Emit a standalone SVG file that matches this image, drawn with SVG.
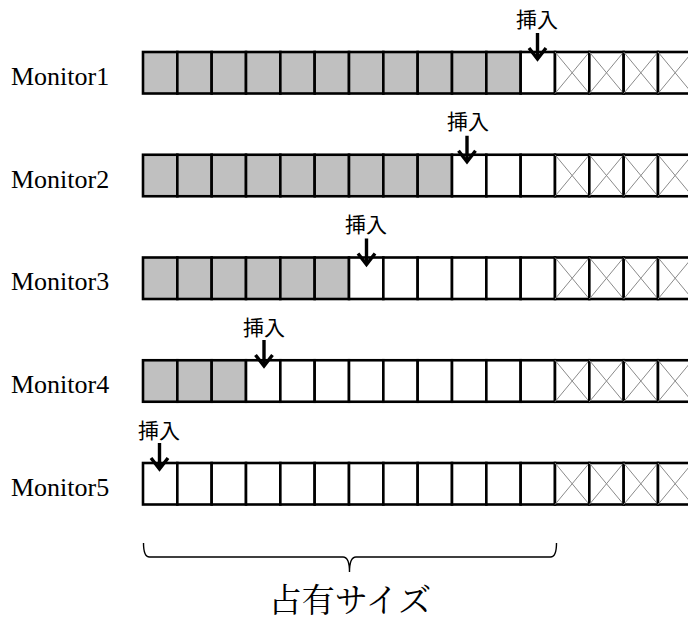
<svg xmlns="http://www.w3.org/2000/svg" xmlns:xlink="http://www.w3.org/1999/xlink" width="688" height="624" viewBox="0 0 688 624">
  <style>
    .cell { fill: #ffffff; stroke: #000000; stroke-width: 2.6; }
    .gray { fill: #c0c0c0; }
    .xline { stroke: #8a8a8a; stroke-width: 1; fill: none; }
    .label { font-family: "Liberation Serif", "Times New Roman", serif; font-size: 26px; fill: #000; }
    .ins { font-family: "Noto Sans CJK JP", "Noto Sans", sans-serif; font-size: 21px; fill: #000; text-anchor: middle; }
    .arrow { stroke: #000; stroke-width: 3.4; fill: none; stroke-linejoin: miter; }
    .brace { stroke: #000; stroke-width: 1.4; fill: none; }
    .caption { font-family: "Noto Serif CJK JP", "Noto Sans CJK JP", serif; font-size: 33px; fill: #000; text-anchor: middle; }
  </style>
  <defs>
    <!-- occupied slot -->
    <rect id="cg" class="cell gray" width="34.33" height="41.5"/>
    <!-- free slot -->
    <rect id="ce" class="cell" width="34.33" height="41.5"/>
    <!-- unusable slot -->
    <g id="cx">
      <rect class="cell" width="34.33" height="41.5"/>
      <line class="xline" x1="0" y1="0" x2="34.33" y2="41.5"/>
      <line class="xline" x1="34.33" y1="0" x2="0" y2="41.5"/>
    </g>
    <!-- insertion arrow, tip at origin -->
    <g id="arr">
      <line class="arrow" x1="0" y1="-27" x2="0" y2="-2"/>
      <polyline class="arrow" points="-8.5,-12 0,-1 8.5,-12"/>
    </g>
  </defs>

  <!-- Monitor1 -->
  <g id="monitor1">
    <text class="label" x="11" y="85">Monitor1</text>
    <g transform="translate(0,52)">
      <use href="#cg" x="143"/><use href="#cg" x="177.33"/><use href="#cg" x="211.67"/><use href="#cg" x="246"/>
      <use href="#cg" x="280.33"/><use href="#cg" x="314.67"/><use href="#cg" x="349"/><use href="#cg" x="383.33"/>
      <use href="#cg" x="417.67"/><use href="#cg" x="452"/><use href="#cg" x="486.33"/><use href="#ce" x="520.67"/>
      <use href="#cx" x="555"/><use href="#cx" x="589.33"/><use href="#cx" x="623.67"/><use href="#cx" x="658"/>
    </g>
    <text class="ins" x="537" y="26.5">挿入</text>
  </g>

  <!-- Monitor2 -->
  <g id="monitor2">
    <text class="label" x="11" y="187.5">Monitor2</text>
    <g transform="translate(0,154.75)">
      <use href="#cg" x="143"/><use href="#cg" x="177.33"/><use href="#cg" x="211.67"/><use href="#cg" x="246"/>
      <use href="#cg" x="280.33"/><use href="#cg" x="314.67"/><use href="#cg" x="349"/><use href="#cg" x="383.33"/>
      <use href="#cg" x="417.67"/><use href="#ce" x="452"/><use href="#ce" x="486.33"/><use href="#ce" x="520.67"/>
      <use href="#cx" x="555"/><use href="#cx" x="589.33"/><use href="#cx" x="623.67"/><use href="#cx" x="658"/>
    </g>
    <text class="ins" x="468" y="129.25">挿入</text>
  </g>

  <!-- Monitor3 -->
  <g id="monitor3">
    <text class="label" x="11" y="290.25">Monitor3</text>
    <g transform="translate(0,257.5)">
      <use href="#cg" x="143"/><use href="#cg" x="177.33"/><use href="#cg" x="211.67"/><use href="#cg" x="246"/>
      <use href="#cg" x="280.33"/><use href="#cg" x="314.67"/><use href="#ce" x="349"/><use href="#ce" x="383.33"/>
      <use href="#ce" x="417.67"/><use href="#ce" x="452"/><use href="#ce" x="486.33"/><use href="#ce" x="520.67"/>
      <use href="#cx" x="555"/><use href="#cx" x="589.33"/><use href="#cx" x="623.67"/><use href="#cx" x="658"/>
    </g>
    <text class="ins" x="366" y="232">挿入</text>
  </g>

  <!-- Monitor4 -->
  <g id="monitor4">
    <text class="label" x="11" y="393">Monitor4</text>
    <g transform="translate(0,360.25)">
      <use href="#cg" x="143"/><use href="#cg" x="177.33"/><use href="#cg" x="211.67"/><use href="#ce" x="246"/>
      <use href="#ce" x="280.33"/><use href="#ce" x="314.67"/><use href="#ce" x="349"/><use href="#ce" x="383.33"/>
      <use href="#ce" x="417.67"/><use href="#ce" x="452"/><use href="#ce" x="486.33"/><use href="#ce" x="520.67"/>
      <use href="#cx" x="555"/><use href="#cx" x="589.33"/><use href="#cx" x="623.67"/><use href="#cx" x="658"/>
    </g>
    <text class="ins" x="264" y="334.75">挿入</text>
  </g>

  <!-- Monitor5 -->
  <g id="monitor5">
    <text class="label" x="11" y="495.5">Monitor5</text>
    <g transform="translate(0,463)">
      <use href="#ce" x="143"/><use href="#ce" x="177.33"/><use href="#ce" x="211.67"/><use href="#ce" x="246"/>
      <use href="#ce" x="280.33"/><use href="#ce" x="314.67"/><use href="#ce" x="349"/><use href="#ce" x="383.33"/>
      <use href="#ce" x="417.67"/><use href="#ce" x="452"/><use href="#ce" x="486.33"/><use href="#ce" x="520.67"/>
      <use href="#cx" x="555"/><use href="#cx" x="589.33"/><use href="#cx" x="623.67"/><use href="#cx" x="658"/>
    </g>
    <text class="ins" x="159" y="437.5">挿入</text>
  </g>

  <!-- insertion arrows -->
  <g id="connectors">
    <use href="#arr" x="537.5" y="60"/>
    <use href="#arr" x="467" y="162.75"/>
    <use href="#arr" x="366.5" y="265.5"/>
    <use href="#arr" x="264" y="367"/>
    <use href="#arr" x="159.5" y="470"/>
  </g>

  <!-- occupied-size brace and caption -->
  <g id="occupied-size">
    <path class="brace" d="M143.5,543 Q143.5,557 149.5,557 H343 Q349.5,557 349.5,572 Q349.5,557 356,557 H550.5 Q556.5,557 556.5,543"/>
    <text class="caption" x="350" y="612">占有サイズ</text>
  </g>
</svg>
